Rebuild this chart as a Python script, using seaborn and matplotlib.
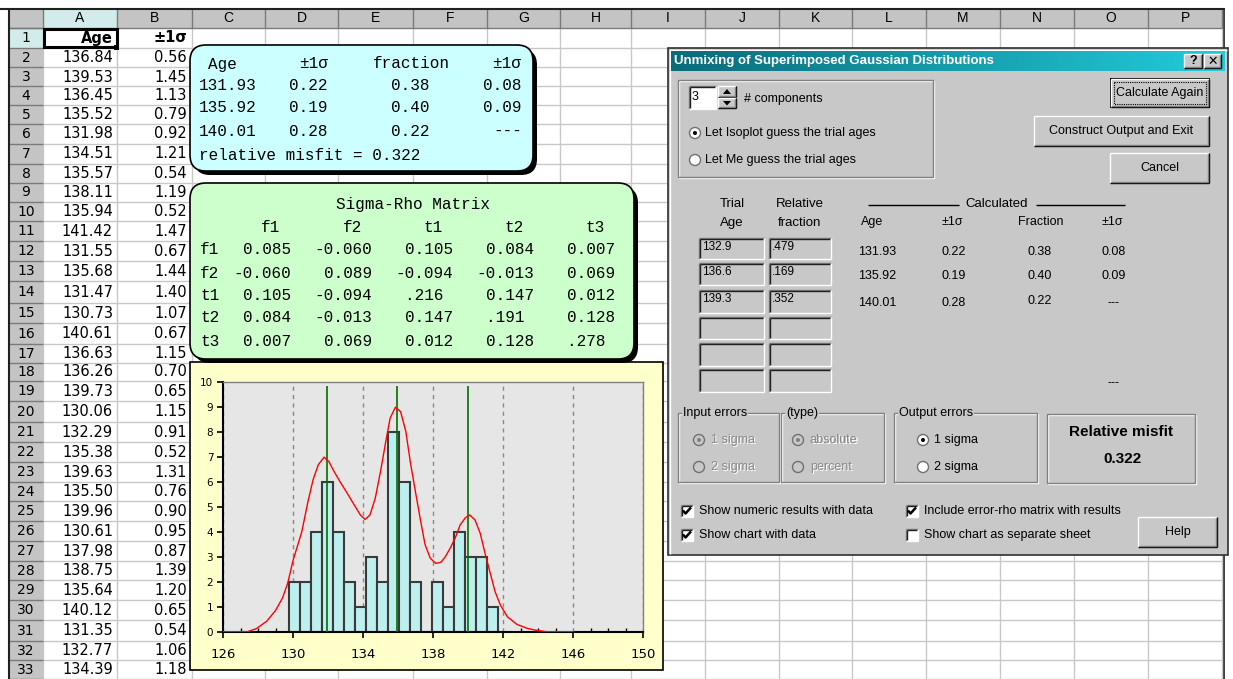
import numpy as np
import matplotlib
matplotlib.use('Agg')
import matplotlib.pyplot as plt
from matplotlib.patches import Rectangle, FancyBboxPatch, Circle, Polygon
from matplotlib.colors import LinearSegmentedColormap
import seaborn as sns

# ---- data ----
ages = [136.84, 139.53, 136.45, 135.52, 131.98, 134.51, 135.57, 138.11, 135.94, 141.42,
        131.55, 135.68, 131.47, 130.73, 140.61, 136.63, 136.26, 139.73, 130.06, 132.29,
        135.38, 139.63, 135.50, 139.96, 130.61, 137.98, 138.75, 135.64, 140.12, 131.35,
        132.77, 134.39]
sigmas = [0.56, 1.45, 1.13, 0.79, 0.92, 1.21, 0.54, 1.19, 0.52, 1.47,
          0.67, 1.44, 1.40, 1.07, 0.67, 1.15, 0.70, 0.65, 1.15, 0.91,
          0.52, 1.31, 0.76, 0.90, 0.95, 0.87, 1.39, 1.20, 0.65, 0.54,
          1.06, 1.18]

comp_age = [131.93, 135.92, 140.01]
comp_age_err = [0.22, 0.19, 0.28]
comp_frac = [0.38, 0.40, 0.22]
comp_frac_err = ['0.08', '0.09', '---']
misfit = 0.322

trial_age = ['132.9', '136.6', '139.3']
trial_frac = ['.479', '.169', '.352']

matrix_labels = ['f1', 'f2', 't1', 't2', 't3']
matrix_vals = [['0.085', '-0.060', '0.105', '0.084', '0.007'],
               ['-0.060', '0.089', '-0.094', '-0.013', '0.069'],
               ['0.105', '-0.094', '.216 ', '0.147', '0.012'],
               ['0.084', '-0.013', '0.147', '.191 ', '0.128'],
               ['0.007', '0.069', '0.012', '0.128', '.278 ']]

# histogram (counts per bin) and the probability curve
bin_start = 129.75
bin_width = 0.629
counts = [2, 2, 4, 6, 4, 2, 1, 3, 2, 8, 6, 2, 0, 2, 1, 4, 3, 3, 1]

curve_x = [126.0, 127.4, 127.9, 128.5, 129.0, 129.4, 129.7, 130.0, 130.5, 130.85, 131.15,
           131.45, 131.78, 132.05, 132.35, 132.7, 133.1, 133.5, 133.85, 134.12, 134.4,
           134.7, 135.0, 135.3, 135.55, 135.85, 136.15, 136.45, 136.7, 137.0, 137.3,
           137.55, 137.85, 138.15, 138.45, 138.7, 139.0, 139.3, 139.55, 139.85, 140.1,
           140.4, 140.7, 141.0, 141.3, 141.55, 141.85, 142.25, 142.8, 143.4, 143.95,
           144.5, 146.0]
curve_y = [0.0, 0.0, 0.12, 0.42, 0.85, 1.35, 1.95, 2.85, 4.0, 5.2, 6.1,
           6.7, 7.0, 6.82, 6.42, 6.0, 5.55, 5.08, 4.68, 4.5, 4.68,
           5.35, 6.42, 7.62, 8.56, 9.0, 8.82, 8.02, 6.82, 5.6, 4.41,
           3.48, 2.94, 2.74, 2.78, 3.0, 3.37, 3.81, 4.28, 4.57, 4.68,
           4.48, 3.94, 3.07, 2.27, 1.6, 1.07, 0.6, 0.29, 0.13, 0.05,
           0.0, 0.0]
peak_top = 9.85

x_ticks = [126, 130, 134, 138, 142, 146, 150]

# ---- canvas in pixel coordinates ----
W, H = 1233, 679
fig = plt.figure(figsize=(W / 100, H / 100), dpi=100)
bg = fig.add_axes([0, 0, 1, 1])
bg.axis('off')

DLG = '#C8C8C8'
SANS = 'Liberation Sans'
MONO = ['Liberation Mono', 'DejaVu Sans Mono']


def box(x0, y0, x1, y1, fc='none', ec='none', lw=1, z=1, **kw):
    bg.add_patch(Rectangle((x0, y0), x1 - x0, y1 - y0, fc=fc, ec=ec, lw=lw, zorder=z, **kw))


def line(xs, ys, c, lw=1, z=2, **kw):
    bg.plot(xs, ys, color=c, lw=lw, zorder=z, solid_capstyle='butt', **kw)


def txt(x, y, s, z=5, **kw):
    kw.setdefault('va', 'center')
    bg.text(x, y, s, zorder=z, **kw)


def raised(x0, y0, x1, y1, z=22):
    box(x0, y0, x1, y1, fc=DLG, z=z)
    line([x0, x1], [y0, y0], 'white', z=z + .1)
    line([x0, x0], [y0, y1], 'white', z=z + .1)
    line([x0, x1], [y1, y1], 'black', z=z + .1)
    line([x1, x1], [y0, y1], 'black', z=z + .1)
    line([x0 + 1, x1 - 1], [y1 - 1, y1 - 1], '#808080', z=z + .1)
    line([x1 - 1, x1 - 1], [y0 + 1, y1 - 1], '#808080', z=z + .1)


def sunken(x0, y0, x1, y1, fc='white', z=22):
    box(x0, y0, x1, y1, fc=fc, z=z)
    line([x0, x1], [y0, y0], '#808080', z=z + .1)
    line([x0, x0], [y0, y1], '#808080', z=z + .1)
    line([x0 + 1, x1 - 1], [y0 + 1, y0 + 1], '#202020', z=z + .1)
    line([x0 + 1, x0 + 1], [y0 + 1, y1 - 1], '#202020', z=z + .1)
    line([x0, x1], [y1, y1], 'white', z=z + .1)
    line([x1, x1], [y0, y1], 'white', z=z + .1)


def etched(x0, y0, x1, y1, z=22):
    box(x0 + 1, y0 + 1, x1, y1, ec='white', z=z)
    box(x0, y0, x1 - 1, y1 - 1, ec='#808080', z=z + .1)


def radio(cx, cy, on, enabled=True, z=23):
    bg.add_patch(Circle((cx, cy), 5.5, fc='white' if enabled else DLG, ec='#707070', lw=1, zorder=z))
    if on:
        bg.add_patch(Circle((cx, cy), 2, fc='black' if enabled else '#808080', ec='none', zorder=z + .1))


def check(cx, cy, on):
    sunken(cx - 6, cy - 6, cx + 6, cy + 6)
    if on:
        line([cx - 4, cx - 1.5, cx + 4], [cy - 0.5, cy + 2.5, cy - 3.5], 'black', lw=1.8, z=23)


def dtext(x, y, s, enabled=True, **kw):
    kw.setdefault('family', SANS)
    kw.setdefault('fontsize', 9)
    if enabled:
        txt(x, y, s, z=24, color='black', **kw)
    else:
        txt(x + 1, y + 1, s, z=24, color='white', **kw)
        txt(x, y, s, z=24.1, color='#8A8A8A', **kw)


# ---- spreadsheet ----
col_edges = [9, 43, 117, 192, 265, 338, 413, 487, 560, 631, 705, 779, 852, 926, 1000, 1074, 1148, 1222]
col_names = list('ABCDEFGHIJKLMNOP')
row_edges = [9, 28, 47.5, 67, 86, 105, 123.5, 143.5, 163.5, 182.5, 201.5, 220.5, 240.5, 260.5,
             281, 302.5, 323, 343.5, 362.5, 380.5, 400.5, 421.5, 442, 462, 481.5, 500.5,
             520.5, 541, 560.5, 580, 600, 620, 640.5, 660, 679]

box(0, 0, W, H, fc='white', z=0)
box(9, 9, 1222, 28, fc='#C4C4C4', z=1)
box(9, 28, 43, H, fc='#C4C4C4', z=1)
box(43, 9, 117, 28, fc='#D2ECEC', z=1.1)
box(9, 28, 43, 47.5, fc='#D2ECEC', z=1.1)
for x in col_edges[1:]:
    line([x, x], [28, H], '#C8C8C8', z=1.5)
    line([x, x], [9, 28], '#7A7A7A', z=1.6)
for y in row_edges[2:]:
    line([43, 1222], [y, y], '#C8C8C8', z=1.5)
for y in row_edges[1:]:
    line([9, 43], [y, y], '#7A7A7A', z=1.6)
line([9, 1222], [28, 28], '#7A7A7A', z=1.6)
line([0, 1226], [9, 9], '#202020', lw=1.5, z=1.7)
line([9, 9], [9, H], '#202020', lw=1.5, z=1.7)
line([1223.5, 1223.5], [9, H], '#404040', lw=2, z=1.7)
box(1225, 0, W, H, fc='white', z=1.8)

for i, name in enumerate(col_names):
    txt((col_edges[i + 1] + col_edges[i + 2]) / 2, 18.5, name, ha='center', fontsize=10, family=SANS, z=3)
for r in range(33):
    yc = (row_edges[r + 1] + row_edges[r + 2]) / 2
    txt(26, yc + 0.5, str(r + 1), ha='center', fontsize=10, family='DejaVu Sans', z=3)

txt(113, 38, 'Age', ha='right', fontsize=10.5, weight='bold', family='DejaVu Sans', z=3)
txt(187, 38, '±1σ', ha='right', fontsize=10.5, weight='bold', family='DejaVu Sans', z=3)
box(44, 29, 116.5, 47, ec='black', lw=2.2, z=3)
box(114, 45, 119, 50, fc='black', z=3.1)
for i, (a, s) in enumerate(zip(ages, sigmas)):
    yc = (row_edges[i + 2] + row_edges[i + 3]) / 2 + 0.5
    txt(113, yc, f'{a:.2f}', ha='right', fontsize=10.5, family='DejaVu Sans', z=3)
    txt(187, yc, f'{s:.2f}', ha='right', fontsize=10.5, family='DejaVu Sans', z=3)

# ---- rounded result boxes ----
def rounded(x0, y0, x1, y1, fc, z):
    bg.add_patch(FancyBboxPatch((x0 + 4, y0 + 4), x1 - x0, y1 - y0,
                                boxstyle='round,pad=0,rounding_size=16', fc='black', ec='none', zorder=z))
    bg.add_patch(FancyBboxPatch((x0, y0), x1 - x0, y1 - y0,
                                boxstyle='round,pad=0,rounding_size=16', fc=fc, ec='black', lw=1.2, zorder=z + .1))


rounded(190, 45, 533, 171, '#CCFFFF', 8)
mono = dict(family=MONO, fontsize=11.5, z=9)
txt(208, 64, 'Age', ha='left', **mono)
txt(328, 64, '±1σ', ha='right', **mono)
txt(450, 64, 'fraction', ha='right', **mono)
txt(521, 64, '±1σ', ha='right', **mono)
for i, yc in enumerate([86, 108, 131]):
    txt(199, yc, f'{comp_age[i]:.2f}', ha='left', **mono)
    txt(328, yc, f'{comp_age_err[i]:.2f}', ha='right', **mono)
    txt(430, yc, f'{comp_frac[i]:.2f}', ha='right', **mono)
    txt(522, yc, comp_frac_err[i], ha='right', **mono)
txt(199, 155, f'relative misfit = {misfit:.3f}', ha='left', **mono)

rounded(190, 183, 634, 359, '#CCFFCC', 8)
txt(413, 204, 'Sigma-Rho Matrix', ha='center', **mono)
col_right = [291, 372, 453, 534, 615]
for j, lab in enumerate(matrix_labels):
    txt(col_right[j] - 20, 227, lab, ha='center', **mono)
for i, lab in enumerate(matrix_labels):
    yc = [250, 273, 295, 318, 341][i]
    txt(200, yc, lab, ha='left', **mono)
    for j, v in enumerate(matrix_vals[i]):
        txt(col_right[j], yc, v, ha='right', **mono)

# ---- chart frame ----
box(190, 362, 663, 670, fc='#FFFFCC', ec='black', lw=1.2, z=7)

hax = fig.add_axes([223 / W, 1 - 631.7 / H, 420 / W, (631.7 - 382.3) / H])
hax.set_facecolor('#E6E6E6')
edges = [bin_start + bin_width * k for k in range(len(counts) + 1)]
centers = [e + bin_width / 2 for e in edges[:-1]]
sns.histplot(x=centers, weights=counts, bins=edges, ax=hax, color='#BDEFEF',
             edgecolor='#3A3A3A', linewidth=1.5, alpha=1, zorder=2)
sns.lineplot(x=curve_x, y=curve_y, ax=hax, color='#FF0000', lw=1, estimator=None, zorder=4)
hax.vlines(comp_age, 0, peak_top, color='#007000', lw=1.2, zorder=3)
hax.set_xlim(126, 150)
hax.set_ylim(0, 10)
hax.set_xticks(x_ticks)
hax.set_xticks(range(126, 151), minor=True)
hax.set_yticks(range(0, 11))
hax.grid(axis='x', color='#8A8A8A', ls=(0, (3, 3)), lw=1, zorder=1)
hax.set_axisbelow(True)
hax.tick_params(axis='x', which='major', direction='out', length=4, width=1.2, labelsize=9.5, pad=8)
hax.tick_params(axis='x', which='minor', direction='in', length=3, width=1)
hax.tick_params(axis='y', which='major', direction='out', length=4, width=1.2, labelsize=7.5, pad=3)
for side in ['left', 'bottom']:
    hax.spines[side].set_color('black')
    hax.spines[side].set_linewidth(1.5)
for side in ['top', 'right']:
    hax.spines[side].set_color('#808080')
    hax.spines[side].set_linewidth(1)
hax.set_xlabel('')
hax.set_ylabel('')

# ---- dialog ----
box(668, 48, 1228, 555, fc=DLG, ec='#303030', lw=1.2, z=20)
line([669.5, 1226.5], [49.5, 49.5], 'white', z=20.5)
line([669.5, 669.5], [49.5, 553.5], 'white', z=20.5)
grad = np.linspace(0, 1, 256)[None, :]
cmap = LinearSegmentedColormap.from_list('title', ['#0B6B7B', '#22CCDC'])
bg.imshow(grad, extent=(671, 1225, 71, 51), cmap=cmap, aspect='auto', zorder=21)
txt(674, 61, 'Unmixing of Superimposed Gaussian Distributions', ha='left',
    color='white', weight='bold', fontsize=9.5, family=SANS, z=22)
raised(1184, 54, 1202, 68)
raised(1204, 54, 1221, 68)
txt(1193, 61.5, '?', ha='center', weight='bold', fontsize=9, family=SANS, z=23)
txt(1212.5, 61.5, '✕', ha='center', weight='bold', fontsize=9, family='DejaVu Sans', z=23)

etched(678, 80, 934, 178)
sunken(689, 86, 716, 109)
dtext(692, 97, '3')
raised(718, 86, 736, 97)
raised(718, 98, 736, 108)
bg.add_patch(Polygon([(723, 94), (731, 94), (727, 89)], closed=True, fc='black', zorder=23))
bg.add_patch(Polygon([(723, 101), (731, 101), (727, 105.5)], closed=True, fc='black', zorder=23))
dtext(744, 99, '# components')
radio(695, 133, True)
dtext(705, 133, 'Let Isoplot guess the trial ages')
radio(695, 160, False)
dtext(705, 160, 'Let Me guess the trial ages')

box(1110, 78, 1210, 108, fc='black', z=21.5)
raised(1111, 79, 1208.5, 106.5)
box(1114, 82, 1205.5, 103.5, ec='black', lw=0.8, ls=(0, (1, 1)), z=23)
dtext(1160, 93, 'Calculate Again', ha='center')
raised(1034, 116, 1209, 146)
dtext(1121.5, 131, 'Construct Output and Exit', ha='center')
raised(1110, 153, 1209, 183)
dtext(1160, 168, 'Cancel', ha='center')

dtext(732, 204, 'Trial', ha='center', fontsize=9.5)
dtext(732, 223, 'Age', ha='center', fontsize=9.5)
dtext(800, 204, 'Relative', ha='center', fontsize=9.5)
dtext(800, 223, 'fraction', ha='center', fontsize=9.5)
dtext(997, 204, 'Calculated', ha='center', fontsize=9.5)
line([868, 959], [205, 205], 'black', z=23)
line([1036, 1125], [205, 205], 'black', z=23)
for x, s in zip([872, 952, 1041, 1112], ['Age', '±1σ', 'Fraction', '±1σ']):
    dtext(x, 222, s, ha='center', fontsize=9)

slots = [(238, 259), (263, 285), (290, 313), (317, 339), (343, 366), (369, 392)]
for k, (y0, y1) in enumerate(slots):
    sunken(699, y0, 764, y1, fc=DLG)
    sunken(769, y0, 831, y1, fc=DLG)
    if k < len(trial_age):
        dtext(702, y0 + 9, trial_age[k], fontsize=8.5)
        dtext(772, y0 + 9, trial_frac[k], fontsize=8.5)
for i, yc in enumerate([252, 276, 303]):
    dtext(877, yc, f'{comp_age[i]:.2f}', ha='center')
    dtext(954, yc, f'{comp_age_err[i]:.2f}', ha='center')
    dtext(1040, yc - (2 if i == 2 else 0), f'{comp_frac[i]:.2f}', ha='center')
    dtext(1114, yc, comp_frac_err[i], ha='center')
dtext(1114, 383, '---', ha='center')

etched(678, 413, 780, 483)
etched(781, 413, 885, 483)
etched(894, 413, 1038, 483)
for x, s in [(683, 'Input errors'), (786, '(type)'), (899, 'Output errors')]:
    dtext(x, 413, s, bbox=dict(fc=DLG, ec='none', pad=0.5))
radio(699, 440, True, False)
dtext(711, 440, '1 sigma', enabled=False)
radio(699, 467, False, False)
dtext(711, 467, '2 sigma', enabled=False)
radio(798, 440, True, False)
dtext(810, 440, 'absolute', enabled=False)
radio(798, 467, False, False)
dtext(810, 467, 'percent', enabled=False)
radio(923, 440, True)
dtext(934, 440, '1 sigma')
radio(923, 467, False)
dtext(934, 467, '2 sigma')

box(1048, 415, 1196, 484, ec='white', z=22)
box(1047, 414, 1195, 483, ec='#808080', z=22.1)
dtext(1121, 432, 'Relative misfit', ha='center', fontsize=11, weight='bold')
dtext(1122, 459, f'{misfit:.3f}', ha='center', fontsize=11, weight='bold')

check(687, 511, True)
dtext(699, 511, 'Show numeric results with data')
check(687, 535, True)
dtext(699, 535, 'Show chart with data')
check(912, 511, True)
dtext(924, 511, 'Include error-rho matrix with results')
check(912, 535, False)
dtext(924, 535, 'Show chart as separate sheet')
raised(1138, 517, 1217, 547)
dtext(1177.5, 532, 'Help', ha='center')

bg.set_xlim(0, W)
bg.set_ylim(H, 0)
fig.savefig('out.png', dpi=100)
